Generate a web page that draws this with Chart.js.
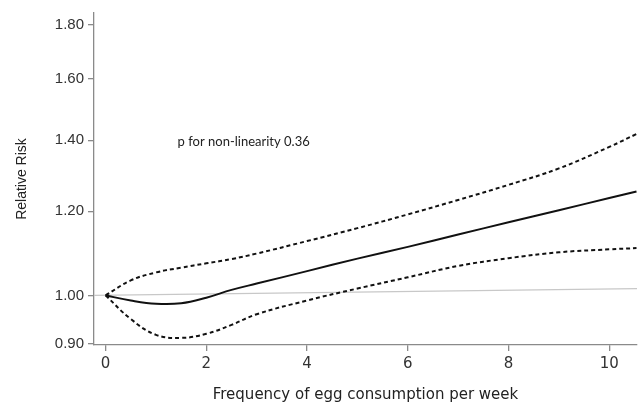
<!DOCTYPE html>
<html>
<head>
<meta charset="utf-8">
<script src="https://cdn.jsdelivr.net/npm/chart.js@4.4.1/dist/chart.umd.min.js"></script>
<style>
  html, body { margin: 0; padding: 0; background: #fff; }
  #wrap { width: 638px; height: 404px; }
</style>
</head>
<body>
<div id="wrap"><canvas id="c" width="638" height="404"></canvas></div>
<script>
// Eggs per week and the pooled relative risk with its 95% confidence band
const eggsPerWeek = [0, 0.5, 1, 1.5, 2, 2.5, 3, 4, 5, 6, 7, 8, 9, 10, 10.54];
const rrEstimate  = [1.000, 0.989, 0.982, 0.983, 0.995, 1.012, 1.026, 1.054, 1.083, 1.111, 1.141, 1.172, 1.203, 1.235, 1.253];
const rrUpper     = [1.000, 1.033, 1.051, 1.062, 1.072, 1.082, 1.095, 1.125, 1.157, 1.192, 1.230, 1.271, 1.317, 1.380, 1.419];
const rrLower     = [1.000, 0.950, 0.918, 0.912, 0.920, 0.938, 0.960, 0.989, 1.015, 1.040, 1.066, 1.084, 1.098, 1.105, 1.108];

// Reference line at RR = 1
const refX  = [-0.23, 10.55];
const refRR = [1.000, 1.015];

// Axis ticks
const xTicks = [0, 2, 4, 6, 8, 10];
const yTicks = [0.9, 1.0, 1.2, 1.4, 1.6, 1.8];

const noteText = 'p for non-linearity 0.36';
const noteAt = { x: 1.43, y: 1.396 };

const toPoints = (xs, ys) => xs.map((x, i) => ({ x, y: ys[i] }));

const noteLabel = {
  id: 'noteLabel',
  afterDatasetsDraw(chart) {
    const { ctx, scales } = chart;
    ctx.save();
    ctx.font = '13px Lato, "Open Sans", sans-serif';
    ctx.fillStyle = '#222';
    ctx.textAlign = 'left';
    ctx.textBaseline = 'middle';
    ctx.fillText(noteText, scales.x.getPixelForValue(noteAt.x), scales.y.getPixelForValue(noteAt.y));
    ctx.restore();
  }
};

const axisColor = '#8a8a8a';
const yFont = { family: '"Liberation Sans", Arial, sans-serif', size: 15 };
const yTitleFont = { family: '"Liberation Sans", Arial, sans-serif', size: 14 };
const xFont = { family: '"DejaVu Sans", sans-serif', size: 15 };

const curve = { pointRadius: 0, tension: 0.4, borderColor: '#111', borderWidth: 2 };

new Chart(document.getElementById('c'), {
  type: 'line',
  data: {
    datasets: [
      { ...curve, data: toPoints(eggsPerWeek, rrEstimate), order: 1 },
      { ...curve, data: toPoints(eggsPerWeek, rrUpper), borderDash: [4, 3], order: 2 },
      { ...curve, data: toPoints(eggsPerWeek, rrLower), borderDash: [4, 3], order: 3 },
      {
        data: toPoints(refX, refRR),
        borderColor: '#c8c8c8', borderWidth: 1.3, pointRadius: 0, tension: 0, order: 10
      }
    ]
  },
  options: {
    responsive: false,
    animation: false,
    layout: { padding: { top: 12, right: 1, left: 0, bottom: 0 } },
    plugins: { legend: { display: false }, tooltip: { enabled: false } },
    scales: {
      x: {
        type: 'linear',
        min: -0.23, max: 10.55,
        afterBuildTicks(scale) { scale.ticks = xTicks.map(v => ({ value: v })); },
        afterFit(scale) { scale.height = 59; },
        border: { display: true, color: axisColor, width: 1.3 },
        grid: { display: true, drawOnChartArea: false, drawTicks: true, tickLength: 6, color: axisColor, lineWidth: 1.3 },
        ticks: { color: '#333', font: xFont, padding: 4, maxRotation: 0, callback: v => String(v) },
        title: {
          display: true, text: 'Frequency of egg consumption per week',
          color: '#222', font: xFont, padding: { top: 8, bottom: 0 }
        }
      },
      y: {
        type: 'logarithmic',
        min: 0.898, max: 1.845,
        afterBuildTicks(scale) { scale.ticks = yTicks.map(v => ({ value: v })); },
        afterFit(scale) { scale.width = 94; },
        border: { display: true, color: axisColor, width: 1.3 },
        grid: { display: true, drawOnChartArea: false, drawTicks: true, tickLength: 6, color: axisColor, lineWidth: 1.3 },
        ticks: { color: '#333', font: yFont, padding: 4, callback: v => Number(v).toFixed(2) },
        title: {
          display: true, text: 'Relative Risk',
          color: '#222', font: yTitleFont, padding: { top: 14, bottom: 0 }
        }
      }
    }
  },
  plugins: [noteLabel]
});
</script>
</body>
</html>
